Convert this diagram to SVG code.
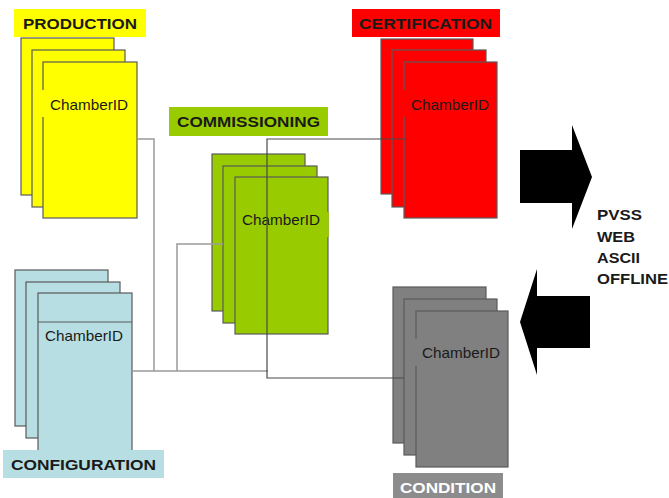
<svg xmlns="http://www.w3.org/2000/svg" width="669" height="498" viewBox="0 0 669 498">
  <style>
    .lbl { font-family: "Liberation Sans", Arial, sans-serif; font-weight: bold; font-size: 15px; fill: #1a1a1a; }
    .cid { font-family: "Liberation Sans", Arial, sans-serif; font-size: 15px; fill: #1a1a1a; }
    .card { stroke: #5a5a5a; stroke-width: 1.2; }
    .yel { fill: #ffff00; }
    .red { fill: #ff0000; }
    .grn { fill: #99cc00; }
    .blu { fill: #b7dfe3; }
    .gry { fill: #808080; }
    .c-light { fill: none; stroke: #9a9a9a; stroke-width: 1.5; }
    .c-dark { fill: none; stroke: #4a4a4a; stroke-width: 1.2; }
  </style>
  <rect width="669" height="498" fill="#ffffff"/>

  <g id="production">
    <rect x="14" y="9" width="132" height="28" class="yel"/>
    <text x="23" y="29" class="lbl" textLength="114" lengthAdjust="spacingAndGlyphs">PRODUCTION</text>
    <rect x="21" y="38" width="93" height="157" class="card yel"/>
    <rect x="32" y="50" width="93" height="157" class="card yel"/>
    <rect x="43" y="62" width="94" height="156" class="card yel"/>
    <rect x="41" y="90" width="4" height="27" class="yel"/>
    <text x="50" y="110" class="cid" textLength="78" lengthAdjust="spacingAndGlyphs">ChamberID</text>
  </g>

  <g id="certification">
    <rect x="352" y="9" width="148" height="28" class="red"/>
    <text x="359" y="29" class="lbl" textLength="133" lengthAdjust="spacingAndGlyphs">CERTIFICATION</text>
    <rect x="381" y="39" width="92" height="155" class="card red"/>
    <rect x="392" y="50" width="94" height="157" class="card red"/>
    <rect x="404" y="62" width="93" height="156" class="card red"/>
    <rect x="402" y="90" width="4" height="27" class="red"/>
    <text x="411" y="110" class="cid" textLength="78" lengthAdjust="spacingAndGlyphs">ChamberID</text>
  </g>

  <g id="commissioning">
    <rect x="169" y="107" width="159" height="29" class="grn"/>
    <text x="177" y="127" class="lbl" textLength="143" lengthAdjust="spacingAndGlyphs">COMMISSIONING</text>
    <rect x="212" y="154" width="93" height="157" class="card grn"/>
    <rect x="223" y="166" width="94" height="157" class="card grn"/>
    <rect x="235" y="177" width="93" height="157" class="card grn"/>
    <rect x="327" y="212" width="1.7" height="25" class="grn"/>
    <text x="242" y="225" class="cid" textLength="78" lengthAdjust="spacingAndGlyphs">ChamberID</text>
  </g>

  <g id="configuration">
    <rect x="15" y="270" width="93" height="156" class="card blu"/>
    <rect x="26" y="282" width="94" height="156" class="card blu"/>
    <rect x="38" y="293" width="94" height="160" class="card blu"/>
    <line x1="38" y1="322" x2="132" y2="322" stroke="#5a5a5a" stroke-width="1.2"/>
    <text x="45" y="341" class="cid" textLength="78" lengthAdjust="spacingAndGlyphs">ChamberID</text>
    <rect x="3" y="450" width="161" height="28" class="blu"/>
    <text x="11" y="470" class="lbl" textLength="145" lengthAdjust="spacingAndGlyphs">CONFIGURATION</text>
  </g>

  <g id="condition">
    <rect x="393" y="287" width="93" height="156" class="card gry"/>
    <rect x="404" y="299" width="93" height="156" class="card gry"/>
    <rect x="416" y="311" width="92" height="156" class="card gry"/>
    <rect x="414" y="339" width="4" height="27" class="gry"/>
    <text x="422" y="358" class="cid" textLength="78" lengthAdjust="spacingAndGlyphs">ChamberID</text>
    <rect x="393" y="473" width="110" height="25" fill="#8c8c8c"/>
    <text x="400" y="493" class="lbl" style="fill:#ffffff" textLength="96" lengthAdjust="spacingAndGlyphs">CONDITION</text>
  </g>

  <g id="connectors">
    <polyline points="137,139 154,139 154,371" class="c-light"/>
    <line x1="132" y1="371" x2="268" y2="371" class="c-light"/>
    <polyline points="177,371 177,244 223,244" class="c-light"/>
    <polyline points="405,139 267,139 267,378 404,378" class="c-dark"/>
  </g>

  <g id="arrow-out">
    <polygon points="520,150 572,150 572,125 592,177 572,229 572,203 520,203" fill="#000000"/>
  </g>
  <g id="arrow-in">
    <polygon points="590,296 537,296 537,269 520,322 537,375 537,348 590,348" fill="#000000"/>
  </g>

  <g id="formats">
    <text x="597" y="220" class="lbl" textLength="45" lengthAdjust="spacingAndGlyphs">PVSS</text>
    <text x="597" y="242" class="lbl" textLength="38" lengthAdjust="spacingAndGlyphs">WEB</text>
    <text x="597" y="263" class="lbl" textLength="43" lengthAdjust="spacingAndGlyphs">ASCII</text>
    <text x="597" y="284" class="lbl" textLength="71" lengthAdjust="spacingAndGlyphs">OFFLINE</text>
  </g>
</svg>
